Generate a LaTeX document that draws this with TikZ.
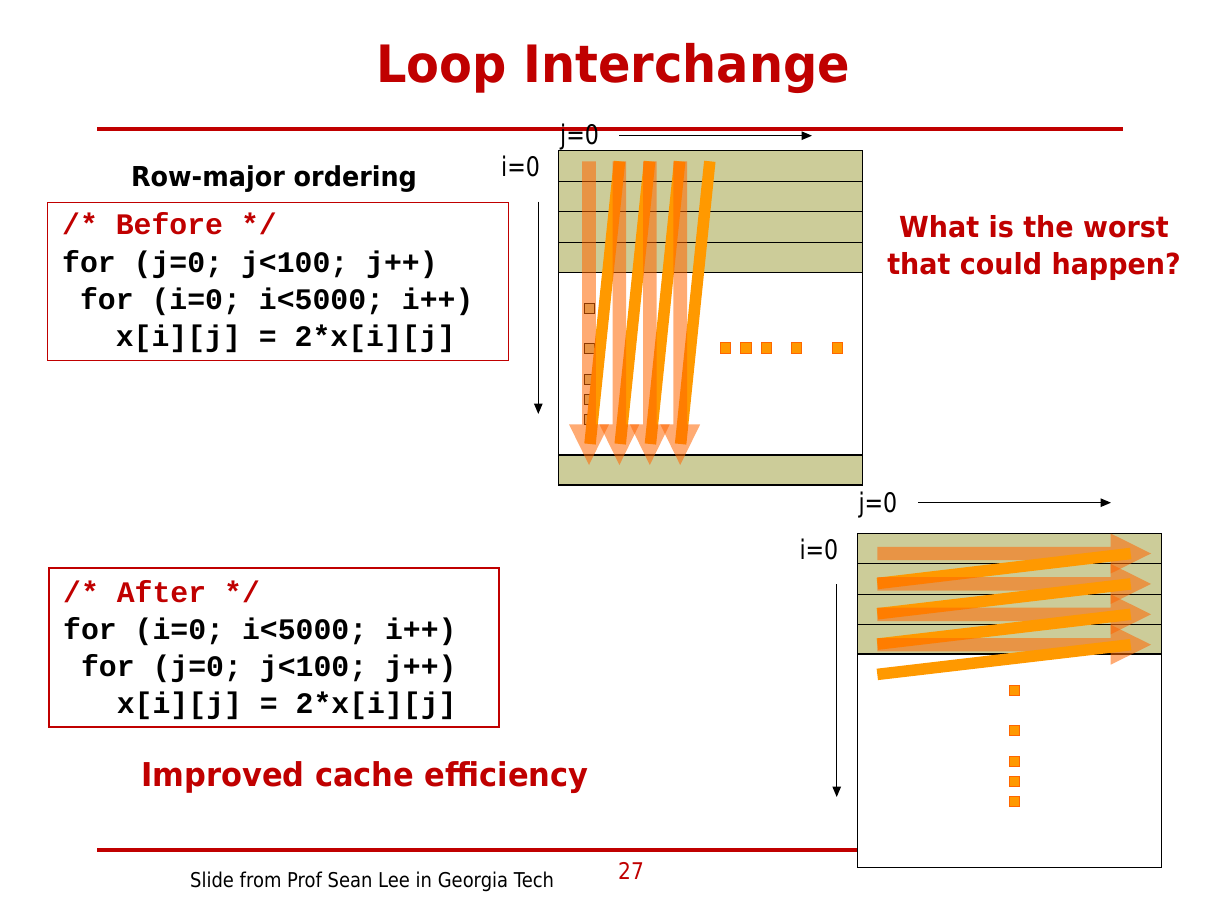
\documentclass[tikz,border=0pt]{standalone}
\usepackage{fontspec}
\setmainfont{DejaVu Sans}[FakeStretch=0.88]
\newfontfamily\tbold{DejaVu Sans}[FakeStretch=0.93]
\newfontfamily\axf{DejaVu Sans}[FakeStretch=0.82]
\newfontfamily\codef{Liberation Mono}
\usetikzlibrary{arrows.meta}
\definecolor{slred}{RGB}{192,0,0}
\definecolor{bandcol}{RGB}{204,204,153}
\definecolor{arrcol}{RGB}{255,102,0}
\definecolor{barcol}{RGB}{255,153,0}
\tikzset{
  redrule/.style={slred, line width=4pt},
  codebox/.style={draw=slred, line width=1.2pt},
  codeline/.style={anchor=base west, inner sep=0pt, font=\codef\bfseries\fontsize{29.8}{36}\selectfont},
  axisarrow/.style={line width=1.2pt, -{Triangle[length=10.5pt,width=8.5pt]}},
  axlabel/.style={anchor=base west, inner sep=0pt, font=\axf\fontsize{27}{30}\selectfont},
  gridline/.style={line width=1.2pt},
  bigarrow/.style={fill=arrcol, fill opacity=0.55},
  mybar/.style={barcol, line width=11.5pt},
  dotsq/.style={rectangle, fill=barcol, draw=arrcol, line width=1pt, minimum size=10.5pt, inner sep=0pt},
  colsq/.style={rectangle, fill=bandcol, draw=black, line width=1pt, minimum size=10pt, inner sep=0pt},
  boldtxt/.style={inner sep=0pt, font=\tbold\bfseries\fontsize{#1}{#1}\selectfont},
}
\begin{document}
\begin{tikzpicture}[x=1pt,y=-1pt]
\useasboundingbox (0,0) rectangle (1214,909);
\fill[white] (0,0) rectangle (1214,909);

% rules
\draw[redrule] (97,129) -- (1123,129);
\draw[redrule] (97,850) -- (1123,850);

% title
\node[boldtxt=51.5, anchor=base, text=slred] (title) at (613,82.5) {Loop Interchange};
\node[boldtxt=27.4, anchor=base] (rowmajor) at (274,187) {Row-major ordering};

% before code
\draw[codebox] (47.3,202.7) rectangle (508.3,360.3);
\node[codeline, text=slred] (b0) at (62,235) {/* Before */};
\node[codeline] (b1) at (62,272.3) {for (j=0; j<100; j++)};
\node[codeline] (b2) at (62,309.3) {~for (i=0; i<5000; i++)};
\node[codeline] (b3) at (62,346.5) {~~~x[i][j] = 2*x[i][j]};

% after code
\draw[codebox] (49,568) rectangle (499,727);
\node[codeline, text=slred] (a0) at (63,602) {/* After */};
\node[codeline] (a1) at (63,639) {for (i=0; i<5000; i++)};
\node[codeline] (a2) at (63,676) {~for (j=0; j<100; j++)};
\node[codeline] (a3) at (63,713) {~~~x[i][j] = 2*x[i][j]};

% question
\node[boldtxt=29, anchor=base, text=slred] (q1) at (1034,237.5) {What is the worst};
\node[boldtxt=29, anchor=base, text=slred] (q2) at (1034,274.5) {that could happen?};

\node[boldtxt=32.8, anchor=base west, text=slred] (improved) at (141,786) {Improved cache efficiency};

% footer
\node[anchor=base west, inner sep=0pt, font=\fontsize{20.4}{24}\selectfont] (footer) at (190,887) {Slide from Prof Sean Lee in Georgia Tech};
\node[anchor=base, inner sep=0pt, text=slred, font=\fontsize{23}{26}\selectfont] (pagenum) at (631,879) {27};

% ===== top matrix =====
\fill[white] (558.3,150.7) rectangle (862.3,485);
\fill[bandcol] (558.3,150.7) rectangle (862.3,272.3);
\fill[bandcol] (558.3,455) rectangle (862.3,485);
\foreach \yy in {181.3,211.3,242.3,272.3,455} \draw[gridline] (558.3,\yy) -- (862.3,\yy);
\draw[gridline] (558.3,150.7) rectangle (862.3,485);

\node[axlabel] (tj) at (560,145) {j=0};
\coordinate (tja) at (619,135.7);
\coordinate (tjb) at (812,135.7);
\draw[axisarrow] (tja) -- (tjb);
\node[axlabel] (ti) at (501,176.7) {i=0};
\coordinate (tia) at (538.3,201.7);
\coordinate (tib) at (538.3,414);
\draw[axisarrow] (tia) -- (tib);

\foreach \yy [count=\n] in {308.5,348,379,399,419} \node[colsq] (cs\n) at (589.3,\yy) {};
\foreach \xx [count=\n] in {725.3,746,766.3,796.3,837.7} \node[dotsq] (rs\n) at (\xx,348) {};

\foreach \k in {0,1,2,3} {
  \draw[mybar] ({590+30.2*\k},444) -- ({619.5+30.1*\k},161.3);
}
\foreach \k in {0,1,2,3} {
  \pgfmathsetmacro{\c}{589+30.4*\k}
  \fill[bigarrow] (\c-6.8,161.3) -- (\c+6.8,161.3) -- (\c+6.8,424.3) -- (\c+20,424.3)
     -- (\c,465) -- (\c-20,424.3) -- (\c-6.8,424.3) -- cycle;
}

% ===== bottom matrix =====
\fill[white] (857.3,533.3) rectangle (1161.3,867.3);
\fill[bandcol] (857.3,533.3) rectangle (1161.3,654);
\foreach \yy in {563.3,594.3,624.3,654} \draw[gridline] (857.3,\yy) -- (1161.3,\yy);
\draw[gridline] (857.3,533.3) rectangle (1161.3,867.3);

\node[axlabel] (bj) at (858.3,512.5) {j=0};
\coordinate (bja) at (918.3,502.7);
\coordinate (bjb) at (1111,502.7);
\draw[axisarrow] (bja) -- (bjb);
\node[axlabel] (bi) at (799.3,559) {i=0};
\coordinate (bia) at (836.7,584);
\coordinate (bib) at (836.7,797);
\draw[axisarrow] (bia) -- (bib);

\foreach \yy [count=\n] in {690.3,730.7,761.3,781.3,801.7} \node[dotsq] (vs\n) at (1014.3,\yy) {};

\foreach \k in {0,1,2,3} {
  \pgfmathsetmacro{\c}{553.5+30.4*\k}
  \fill[bigarrow] (877.3,\c-6.7) -- (1110.7,\c-6.7) -- (1110.7,\c-20) -- (1151,\c)
     -- (1110.7,\c+20) -- (1110.7,\c+6.7) -- (877.3,\c+6.7) -- cycle;
  \draw[mybar] (877.3,{583.5+30.3*\k}) -- (1130.7,{553.5+30.4*\k});
}
\end{tikzpicture}
\end{document}
